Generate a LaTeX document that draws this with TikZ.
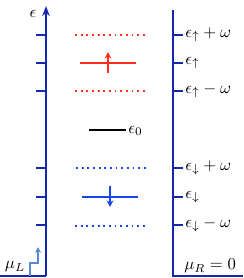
\documentclass[tikz,border=0pt]{standalone}
\usetikzlibrary{arrows.meta}
\definecolor{axisblue}{RGB}{20,40,175}
\definecolor{lvlred}{RGB}{255,45,25}
\definecolor{lvlblue}{RGB}{25,70,230}
\definecolor{stepblue}{RGB}{90,140,205}
\begin{document}
\begin{tikzpicture}[x=0.6pt,y=-0.6pt,
  axis/.style={axisblue,line width=1.2pt},
  tick/.style={axisblue,line width=1.2pt},
  dotlvl/.style={line width=1.1pt,dash pattern=on 1.1pt off 2.3pt},
  sollvl/.style={line width=1.2pt},
  lbl/.style={inner sep=0pt,anchor=west}]
\useasboundingbox (0,0) rectangle (243,278);
% left axis
\coordinate (lb) at (0,276);
\coordinate (la0) at (46,276);
\coordinate (la1) at (46,6);
\draw[axis] (lb) -- (la0);
\draw[axis,-{Stealth[length=6pt,width=4.5pt]}] (la0) -- (la1);
\node (eps) at (33,14) {$\epsilon$};
% right axis
\coordinate (ra0) at (173,10);
\coordinate (ra1) at (173,276);
\coordinate (rb) at (243,276);
\draw[axis] (ra0) -- (ra1) -- (rb);
% ticks and labels
\foreach \n/\y in {a/35,b/63,c/91,d/168,e/197,f/225}{
  \coordinate (lt\n) at (36,\y);
  \coordinate (lT\n) at (46,\y);
  \coordinate (rt\n) at (173,\y);
  \coordinate (rT\n) at (183,\y);
  \draw[tick] (lt\n) -- (lT\n);
  \draw[tick] (rt\n) -- (rT\n);
}
\node[lbl] (la) at (185,35) {$\epsilon_\uparrow+\omega$};
\node[lbl] (lbb) at (185,63) {$\epsilon_\uparrow$};
\node[lbl] (lc) at (185,91) {$\epsilon_\uparrow-\omega$};
\node[lbl] (ld) at (185,168) {$\epsilon_\downarrow+\omega$};
\node[lbl] (le) at (185,197) {$\epsilon_\downarrow$};
\node[lbl] (lf) at (185,225) {$\epsilon_\downarrow-\omega$};
% red levels
\coordinate (r1a) at (75,35); \coordinate (r1b) at (148,35);
\coordinate (r2a) at (75,91); \coordinate (r2b) at (148,91);
\coordinate (rsa) at (80,63); \coordinate (rsb) at (136,63);
\coordinate (rar0) at (108,73); \coordinate (rar1) at (108,52);
\draw[lvlred,dotlvl] (r1a) -- (r1b);
\draw[lvlred,dotlvl] (r2a) -- (r2b);
\draw[lvlred,sollvl] (rsa) -- (rsb);
\draw[lvlred,sollvl,-{Stealth[length=4pt,width=4pt]}] (rar0) -- (rar1);
% epsilon0
\coordinate (e0a) at (89,130); \coordinate (e0b) at (126,130);
\draw[black,sollvl] (e0a) -- (e0b);
\node[lbl] (e0) at (128,131) {$\epsilon_0$};
% blue levels
\coordinate (b1a) at (76,168); \coordinate (b1b) at (148,168);
\coordinate (b2a) at (75,226); \coordinate (b2b) at (148,226);
\coordinate (bsa) at (82,197); \coordinate (bsb) at (138,197);
\coordinate (bar0) at (110,186); \coordinate (bar1) at (110,207);
\draw[lvlblue,dotlvl] (b1a) -- (b1b);
\draw[lvlblue,dotlvl] (b2a) -- (b2b);
\draw[lvlblue,sollvl] (bsa) -- (bsb);
\draw[lvlblue,sollvl,-{Stealth[length=4pt,width=4pt]}] (bar0) -- (bar1);
% mu_L staircase
\coordinate (s0) at (30,276); \coordinate (s1) at (30,263);
\coordinate (s2) at (38,263); \coordinate (s3) at (38,247);
\draw[stepblue,line width=0.9pt,-{Stealth[length=3.5pt,width=3.5pt]}] (s0) -- (s1) -- (s2) -- (s3);
\node (muL) at (15,267) {$\mu_L$};
\node[lbl] (muR) at (184,266) {$\mu_R=0$};
\end{tikzpicture}
\end{document}
